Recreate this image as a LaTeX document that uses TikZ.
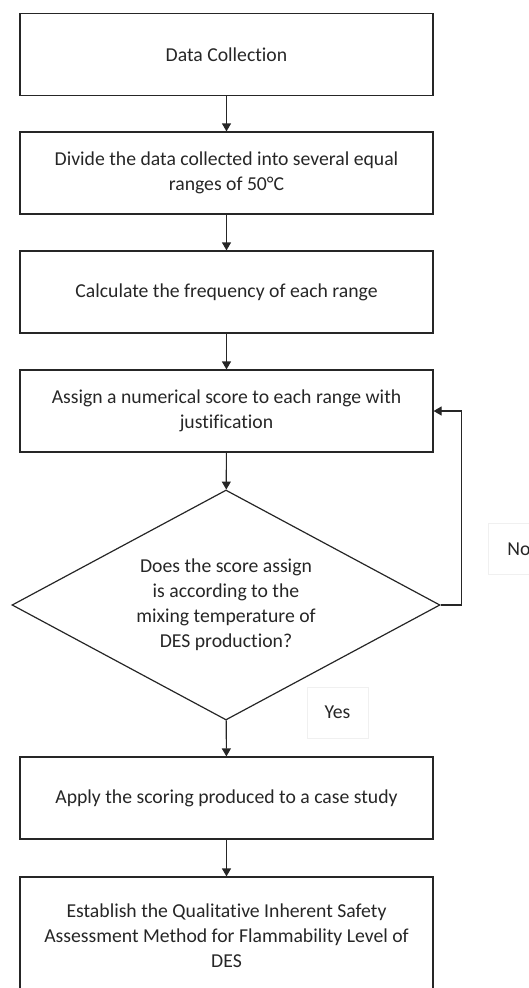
\documentclass[tikz,border=0pt]{standalone}
\usepackage{fontspec}
\setmainfont[Ligatures={NoCommon}]{Carlito}
\usetikzlibrary{shapes.geometric,arrows.meta}
\begin{document}
\begin{tikzpicture}[x=1pt,y=-1pt]
\tikzstyle{every node}=[font=\fontsize{19.7}{25}\selectfont, text=black!85]
\tikzstyle{stepbox}=[draw=black!85, line width=1.2pt, minimum width=413pt, minimum height=82pt, align=center, inner sep=0pt]
\tikzstyle{flow}=[draw=black!85, line width=1.2pt, -{Triangle[length=8pt,width=9pt]}]
\tikzstyle{tag}=[draw=black!6, line width=0.6pt, minimum width=61pt, minimum height=51pt, inner sep=0pt]
	\useasboundingbox (0,0) rectangle (529,988);
	\clip (0,0) rectangle (529,988);
	\node[stepbox] (collect) at (226.5,54.5) {Data Collection};
	\node[stepbox] (divide) at (226.5,173) {Divide the data collected into several equal\\ranges of 50°C};
	\node[stepbox] (freq) at (226.5,292) {Calculate the frequency of each range};
	\node[stepbox] (assign) at (226.5,411) {Assign a numerical score to each range with\\justification};
	\node[draw=black!85, line width=1.2pt, shape=diamond, aspect=1.86, minimum width=428pt, minimum height=230pt, inner sep=0pt, align=center] (check) at (226,605) {Does the score assign\\is according to the\\mixing temperature of\\DES production?};
	\node[stepbox] (apply) at (226.5,798) {Apply the scoring produced to a case study};
	\node[stepbox, minimum height=118pt] (method) at (226.5,936) {Establish the Qualitative Inherent Safety\\Assessment Method for Flammability Level of\\DES};
	\node[tag] (no) at (519,549) {No};
	\node[tag] (yes) at (337.5,712.5) {Yes};
	\draw[flow] (collect) -- (divide);
	\draw[flow] (divide) -- (freq);
	\draw[flow] (freq) -- (assign);
	\draw[flow] (assign) -- (check);
	\draw[flow] (check) -- (apply);
	\draw[flow] (apply) -- (method);
	\draw[flow] (check.east) -- ++(21,0) |- (assign.east);
\end{tikzpicture}
\end{document}
